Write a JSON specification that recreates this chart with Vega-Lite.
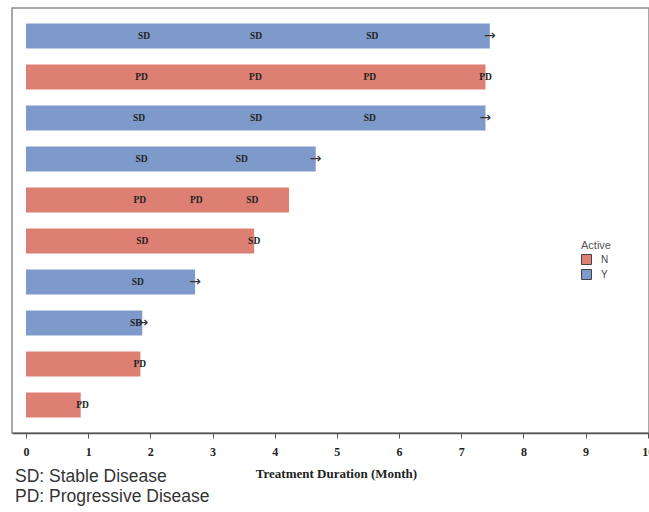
{
  "$schema": "https://vega.github.io/schema/vega-lite/v6.json",
  "autosize": "none",
  "width": 637,
  "height": 425,
  "padding": {"left": 12, "top": 8, "right": 0, "bottom": 79},
  "background": "white",
  "config": {
    "view": {"stroke": "#8c8c8c", "strokeWidth": 1.5},
    "axis": {"grid": false}
  },
  "datasets": {
    "bars": [
      {"id": "1", "end": 7.46, "active": "Y"},
      {"id": "2", "end": 7.39, "active": "N"},
      {"id": "3", "end": 7.39, "active": "Y"},
      {"id": "4", "end": 4.66, "active": "Y"},
      {"id": "5", "end": 4.23, "active": "N"},
      {"id": "6", "end": 3.67, "active": "N"},
      {"id": "7", "end": 2.72, "active": "Y"},
      {"id": "8", "end": 1.87, "active": "Y"},
      {"id": "9", "end": 1.84, "active": "N"},
      {"id": "10", "end": 0.88, "active": "N"}
    ],
    "labels": [
      {"id": "1", "month": 1.90, "resp": "SD"},
      {"id": "1", "month": 3.70, "resp": "SD"},
      {"id": "1", "month": 5.57, "resp": "SD"},
      {"id": "2", "month": 1.86, "resp": "PD"},
      {"id": "2", "month": 3.69, "resp": "PD"},
      {"id": "2", "month": 5.53, "resp": "PD"},
      {"id": "2", "month": 7.39, "resp": "PD"},
      {"id": "3", "month": 1.82, "resp": "SD"},
      {"id": "3", "month": 3.70, "resp": "SD"},
      {"id": "3", "month": 5.53, "resp": "SD"},
      {"id": "4", "month": 1.86, "resp": "SD"},
      {"id": "4", "month": 3.47, "resp": "SD"},
      {"id": "5", "month": 1.83, "resp": "PD"},
      {"id": "5", "month": 2.74, "resp": "PD"},
      {"id": "5", "month": 3.64, "resp": "SD"},
      {"id": "6", "month": 1.87, "resp": "SD"},
      {"id": "6", "month": 3.67, "resp": "SD"},
      {"id": "7", "month": 1.80, "resp": "SD"},
      {"id": "8", "month": 1.77, "resp": "SD"},
      {"id": "9", "month": 1.83, "resp": "PD"},
      {"id": "10", "month": 0.91, "resp": "PD"}
    ]
  },
  "title": {
    "text": ["SD: Stable Disease", "PD: Progressive Disease"],
    "orient": "bottom",
    "anchor": "start",
    "frame": "group",
    "font": "Liberation Sans",
    "fontSize": 17.5,
    "fontWeight": "normal",
    "color": "#333333",
    "lineHeight": 20,
    "offset": 0,
    "dx": 3,
    "dy": -12
  },
  "encoding": {
    "y": {
      "field": "id",
      "type": "nominal",
      "sort": ["1","2","3","4","5","6","7","8","9","10"],
      "scale": {"paddingInner": 0.39, "paddingOuter": 0.378},
      "axis": null
    }
  },
  "layer": [
    {
      "data": {"name": "bars"},
      "mark": {"type": "bar"},
      "encoding": {
        "x": {
          "field": "end",
          "type": "quantitative",
          "scale": {"domain": [-0.225, 10.02], "nice": false, "zero": false},
          "axis": {
            "values": [0,1,2,3,4,5,6,7,8,9,10],
            "format": "d",
            "title": "Treatment Duration (Month)",
            "titleFont": "Liberation Serif",
            "titleFontWeight": "bold",
            "titleFontSize": 13,
            "titleColor": "#222222",
            "titlePadding": 10,
            "titleX": 324,
            "labelFont": "Liberation Serif",
            "labelFontWeight": "bold",
            "labelFontSize": 12,
            "labelColor": "#222222",
            "labelPadding": 8,
            "labelFlush": false,
            "labelOverlap": false,
            "domainColor": "#555555",
            "domainWidth": 1.5,
            "tickColor": "#555555",
            "tickSize": 5
          }
        },
        "x2": {"datum": 0},
        "color": {
          "field": "active",
          "type": "nominal",
          "scale": {"domain": ["N", "Y"], "range": ["#de7f73", "#7e9acb"]},
          "legend": {
            "title": "Active",
            "orient": "none",
            "legendX": 569,
            "legendY": 232,
            "titleFont": "Liberation Sans",
            "titleFontSize": 11,
            "titleFontWeight": "normal",
            "titleColor": "#555555",
            "titlePadding": 3,
            "labelFont": "Liberation Sans",
            "labelFontSize": 10,
            "labelColor": "#444444",
            "symbolType": "square",
            "symbolSize": 100,
            "symbolStrokeColor": "#444444",
            "symbolStrokeWidth": 1,
            "symbolOpacity": 1,
            "rowPadding": 0,
            "labelOffset": 9
          }
        }
      }
    },
    {
      "data": {"name": "labels"},
      "mark": {"type": "text", "font": "Liberation Serif", "fontWeight": "bold", "fontSize": 9.5, "color": "#222222"},
      "encoding": {
        "x": {"field": "month", "type": "quantitative"},
        "text": {"field": "resp"}
      }
    },
    {
      "data": {"name": "bars"},
      "transform": [{"filter": "datum.active === 'Y'"}],
      "mark": {"type": "text", "text": "→", "font": "DejaVu Sans", "fontSize": 14, "color": "#333333", "dx": 0},
      "encoding": {
        "x": {"field": "end", "type": "quantitative"}
      }
    }
  ]
}
